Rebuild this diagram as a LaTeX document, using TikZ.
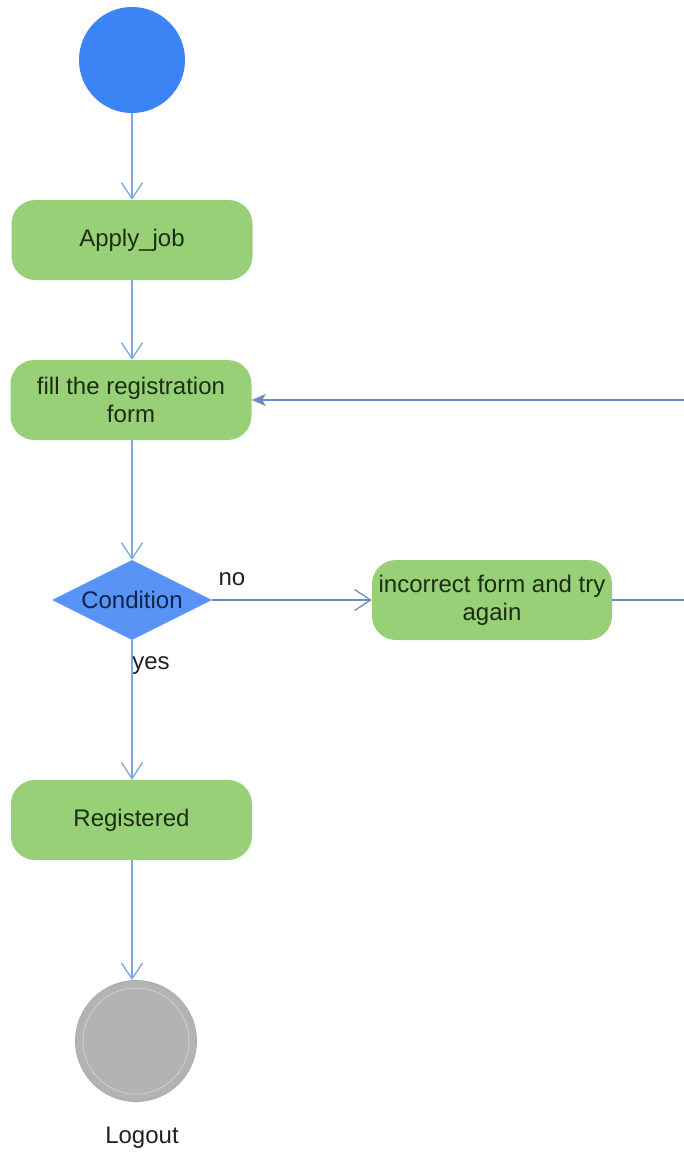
\documentclass[tikz,border=0pt]{standalone}
\usepackage{fontspec}
\setmainfont{Liberation Sans}
\usetikzlibrary{shapes.geometric,arrows.meta}

\definecolor{startblue}{HTML}{3C84F6}
\definecolor{decblue}{HTML}{5893F5}
\definecolor{actgreen}{HTML}{97D077}
\definecolor{acttext}{HTML}{1B2E10}
\definecolor{dectext}{HTML}{10224A}
\definecolor{flowlight}{HTML}{7EA6E0}
\definecolor{flowdark}{HTML}{6C8EBF}
\definecolor{endgrey}{HTML}{B3B3B3}
\definecolor{endedge}{HTML}{ABABAB}
\definecolor{endring}{HTML}{CACACA}
\definecolor{labeltext}{HTML}{222222}

\tikzset{
  x=1pt, y=-1pt,
  txt/.style={font=\fontsize{24}{28}\selectfont},
  activity/.style={txt, rectangle, rounded corners=24pt, fill=actgreen,
    text=acttext, minimum width=241pt, minimum height=80pt,
    align=center, inner sep=0pt},
  decision/.style={txt, diamond, shape aspect=2, fill=decblue, text=dectext,
    minimum width=160pt, minimum height=80pt, inner sep=0pt},
  initial/.style={circle, fill=startblue, minimum size=106pt, inner sep=0pt},
  final/.style={circle, fill=endgrey, draw=endedge, line width=0.8pt,
    minimum size=121pt, inner sep=0pt},
  lbl/.style={txt, text=labeltext, inner sep=0pt},
  openhead/.style={-{Straight Barb[length=16pt,width=21pt,line width=1.3pt]}},
  flow/.style={draw=flowlight, line width=1.5pt, openhead},
  flowside/.style={draw=flowdark, line width=1.5pt},
}

\begin{document}
\begin{tikzpicture}
\clip (0,0) rectangle (684,1157);
\fill[white] (0,0) rectangle (684,1157);

% states and activities
\node[initial] (start) at (132,60) {};
\node[activity] (apply) at (132,240) {Apply\_job};
\node[activity] (fill) at (131,400) {fill the registration\\form};
\node[decision] (cond) at (132,600) {Condition};
\node[activity, minimum width=240pt] (retry) at (492,600) {incorrect form and try\\again};
\node[activity] (reg) at (131.5,820) {Registered};
\node[final] (end) at (136,1041) {};
\draw[endring, line width=1pt] (end.center) circle[radius=53];
\node[lbl] (logout) at (142,1138) {Logout};

% main flow
\draw[flow] (start) -- (apply.north -| start);
\draw[flow] (apply.south -| start) -- (fill.north -| start);
\draw[flow] (fill.south -| start) -- (cond.north);
\draw[flow] (cond.south) -- (reg.north -| cond.south);
\draw[flow] (reg.south -| cond.south) -- (end.north -| cond.south);

% rejected branch and return loop
\draw[flowside, openhead] (cond.east) -- (retry.west);
\coordinate (loopbot) at (700,600);
\coordinate (looptop) at (700,400);
\draw[flowside, -{Stealth[length=14pt,width=12pt,inset=3.5pt]}]
  (retry.east) -- (loopbot) -- (looptop) -- (fill.east);

% guard labels
\node[lbl] (no) at (232,579) {no};
\node[lbl] (yes) at (151,666) {yes};
\end{tikzpicture}
\end{document}
